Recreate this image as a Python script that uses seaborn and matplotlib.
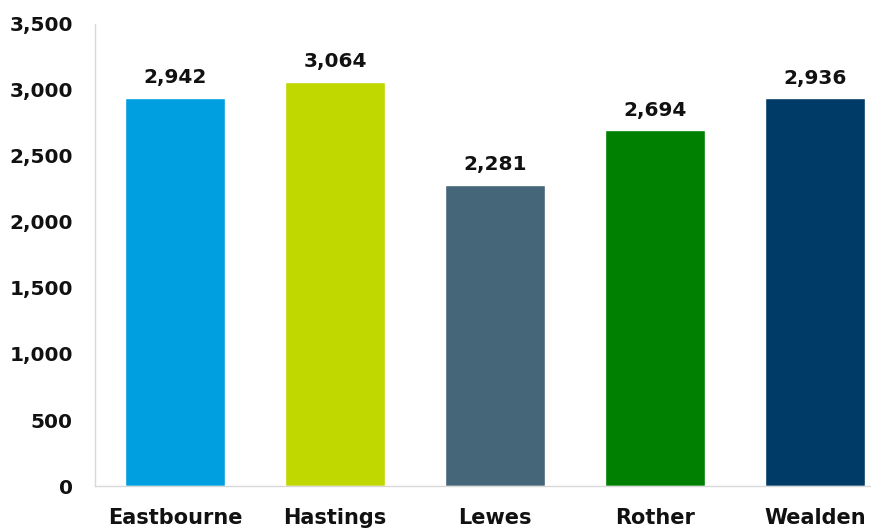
import matplotlib
matplotlib.use("Agg")
import matplotlib.pyplot as plt
import seaborn as sns
import pandas as pd

categories = ["Eastbourne", "Hastings", "Lewes", "Rother", "Wealden"]
values = [2942, 3064, 2281, 2694, 2936]
colors = ["#009FDF", "#C0D800", "#456679", "#008000", "#003A66"]
yticks = [0, 500, 1000, 1500, 2000, 2500, 3000, 3500]

sns.set_theme(style="white")
plt.rcParams["font.family"] = ["DejaVu Sans"]

df = pd.DataFrame({"cat": categories, "val": values})

fig = plt.figure(figsize=(8.71, 5.29), dpi=100)
ax = fig.add_axes([95/871, (529-486)/529, 800/871, (486-24)/529])
sns.barplot(data=df, x="cat", y="val", hue="cat", palette=colors, width=0.63,
            legend=False, ax=ax, saturation=1)
ax.set_xlim(-0.5, 4.5)
ax.set_ylim(0, 3500)
ax.set_yticks(yticks)
ax.set_yticklabels([f"{v:,}" for v in yticks], fontsize=14.5, fontweight="bold", color="#111111")
ax.set_xticks(range(len(categories)))
ax.set_xticklabels(categories, fontsize=15, fontweight="bold", color="#111111")
ax.set_xlabel("")
ax.set_ylabel("")
ax.tick_params(axis="y", length=0, pad=16)
ax.tick_params(axis="x", length=0, pad=16)
for s in ["top", "right"]:
    ax.spines[s].set_visible(False)
for s in ["left", "bottom"]:
    ax.spines[s].set_color("#d9d9d9")
    ax.spines[s].set_linewidth(1)
for i, v in enumerate(values):
    ax.text(i, v + 80, f"{v:,}", ha="center", va="bottom", fontsize=14.5,
            fontweight="bold", color="#111111")

fig.savefig("out.png", dpi=100)
